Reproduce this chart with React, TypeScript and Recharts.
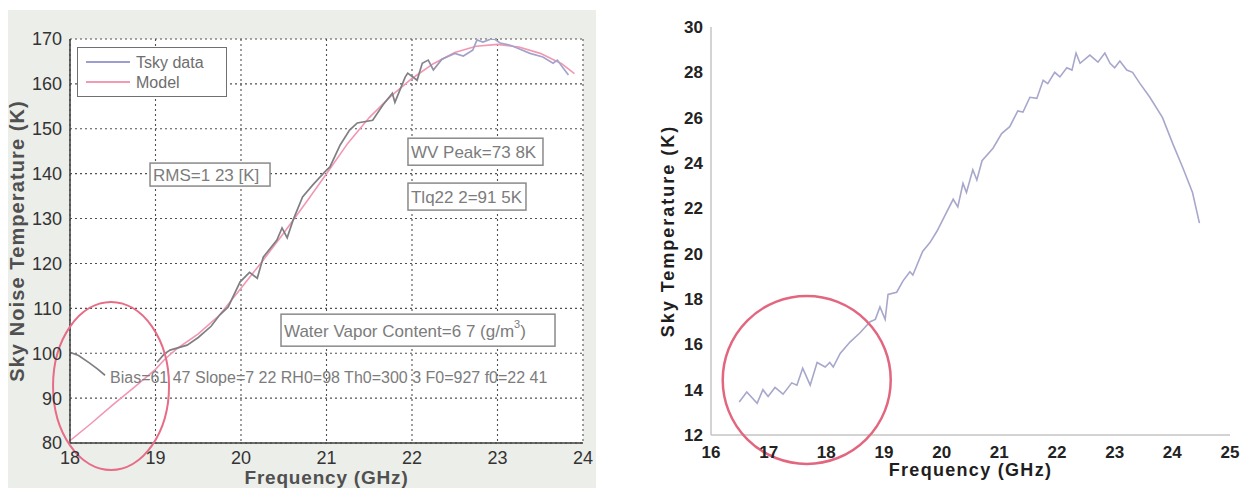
import React from 'react';
import { LineChart, Line, XAxis, YAxis, CartesianGrid, ReferenceDot, Legend } from 'recharts';

// ---------- Left panel: Tsky measurement and fitted model (20180707-seoz02-az180) ----------
const tskyFreq = [
  18.0, 18.1, 18.23, 18.32, 18.41, 18.7, 19.02, 19.1, 19.17, 19.37, 19.5, 19.65, 19.75, 19.85,
  19.99, 20.1, 20.19, 20.26, 20.42, 20.48, 20.54, 20.61, 20.72, 20.84, 20.98, 21.04, 21.16,
  21.27, 21.36, 21.54, 21.66, 21.77, 21.8, 21.92, 21.95, 22.06, 22.12, 22.19, 22.25, 22.35,
  22.5, 22.6, 22.71, 22.76, 22.83, 22.95, 23.03, 23.15, 23.23, 23.38, 23.53, 23.65, 23.7,
  23.77, 23.83,
];
const tskyTemp = [
  100.2, 99.5, 97.8, 96.5, 95.1, null, 98.0, 99.8, 100.7, 101.8, 103.5, 106.0, 108.5, 110.3,
  115.9, 118.0, 116.7, 121.4, 125.2, 127.9, 125.7, 129.7, 134.8, 137.5, 140.4, 141.5, 146.4,
  149.7, 151.3, 151.9, 155.3, 157.9, 155.9, 161.5, 162.4, 160.8, 164.6, 165.3, 163.1, 165.5,
  166.8, 166.2, 167.5, 169.8, 169.3, 170.2, 169.1, 168.6, 168.0, 166.8, 166.0, 164.6, 165.3,
  163.5, 162.0,
];
const modelFreq = [
  18.0, 18.25, 18.5, 18.75, 19.0, 19.1, 19.25, 19.5, 19.75, 20.0, 20.25, 20.5, 20.75, 21.0,
  21.25, 21.5, 21.75, 22.0, 22.25, 22.5, 22.75, 23.0, 23.25, 23.5, 23.75, 23.9,
];
const modelTemp = [
  80.5, 84.4, 88.5, 92.4, 96.4, 98.5, 101.0, 104.3, 108.5, 114.5, 120.5, 126.8, 133.3, 140.0,
  146.8, 152.5, 157.2, 161.2, 164.5, 167.0, 168.4, 168.8, 168.2, 166.8, 164.5, 162.3,
];
const leftXTicks = [18, 19, 20, 21, 22, 23, 24];
const leftYTicks = [80, 90, 100, 110, 120, 130, 140, 150, 160, 170];

const leftTitle = '20180707-seoz02-az180';
const rmsText = 'RMS=1 23 [K]';
const wvPeakText = 'WV Peak=73 8K';
const tlqText = 'Tlq22 2=91 5K';
const fitText = 'Bias=61 47 Slope=7 22 RH0=98 Th0=300 3 F0=927 f0=22 41';
const legendOrder = ['Tsky data', 'Model'];

// ---------- Right panel: sky temperature spectrum ----------
const skyFreq = [
  16.49, 16.62, 16.8, 16.9, 16.99, 17.11, 17.25, 17.4, 17.49, 17.59, 17.72, 17.84, 17.98,
  18.06, 18.12, 18.24, 18.41, 18.58, 18.76, 18.85, 18.93, 19.02, 19.07, 19.22, 19.33, 19.45,
  19.5, 19.67, 19.8, 19.92, 20.06, 20.2, 20.28, 20.37, 20.43, 20.54, 20.61, 20.7, 20.89, 21.04,
  21.18, 21.32, 21.41, 21.53, 21.65, 21.76, 21.84, 21.96, 22.05, 22.17, 22.26, 22.33, 22.4,
  22.57, 22.71, 22.83, 22.92, 23.0, 23.09, 23.21, 23.31, 23.44, 23.61, 23.83, 24.0, 24.18,
  24.35, 24.47,
];
const skyTemp = [
  13.46, 13.9, 13.4, 14.0, 13.7, 14.1, 13.8, 14.3, 14.2, 14.95, 14.2, 15.2, 15.0, 15.2, 15.0,
  15.6, 16.1, 16.5, 17.0, 17.1, 17.65, 17.1, 18.2, 18.3, 18.8, 19.2, 19.06, 20.1, 20.5, 21.0,
  21.7, 22.4, 22.06, 23.1, 22.7, 23.7, 23.25, 24.1, 24.65, 25.3, 25.6, 26.3, 26.25, 26.9,
  26.85, 27.65, 27.5, 28.0, 27.8, 28.2, 28.1, 28.85, 28.4, 28.76, 28.45, 28.85, 28.4, 28.2,
  28.5, 28.1, 28.0, 27.5, 26.9, 26.0, 24.9, 23.8, 22.7, 21.35,
];
const rightXTicks = [16, 17, 18, 19, 20, 21, 22, 23, 24, 25];
const rightYTicks = [12, 14, 16, 18, 20, 22, 24, 26, 28, 30];

const tskyData = tskyFreq.map((f, i) => ({ f, t: tskyTemp[i] }));
const modelData = modelFreq.map((f, i) => ({ f, t: modelTemp[i] }));
const skyData = skyFreq.map((f, i) => ({ f, t: skyTemp[i] }));

const LEFT_FONT = '"Liberation Sans", Arial, sans-serif';
const boxTextColor = '#7c7c7c';

// A framed text label whose top-left corner sits on the anchor point
const boxLabel = (w: number, h: number, content: React.ReactNode) => (p: any) => (
  <g>
    <rect x={p.cx} y={p.cy} width={w} height={h} fill="#ffffff" stroke="#8a8a8a" strokeWidth={1.5} />
    <text
      x={p.cx + 3}
      y={p.cy + h / 2 + 1}
      dominantBaseline="central"
      fontFamily={LEFT_FONT}
      fontSize={17}
      fill={boxTextColor}
    >
      {content}
    </text>
  </g>
);

const plainLabel = (content: string) => (p: any) => (
  <text x={p.cx} y={p.cy} dominantBaseline="central" fontFamily={LEFT_FONT} fontSize={16} fill={boxTextColor}>
    {content}
  </text>
);

const ellipseShape = (rx: number, ry: number, color: string, width: number) => (p: any) => (
  <ellipse cx={p.cx} cy={p.cy} rx={rx} ry={ry} fill="none" stroke={color} strokeWidth={width} />
);

const legendColors: Record<string, string> = { 'Tsky data': '#9d9dd2', Model: '#f19ab4' };

const LeftLegend = (props: any) => {
  const entries = [...(props.payload || [])].sort(
    (a: any, b: any) => legendOrder.indexOf(a.value) - legendOrder.indexOf(b.value)
  );
  return (
    <div style={{ width: 148, height: 48, border: '1.5px solid #707070', background: '#ffffff' }}>
      <svg width={148} height={48}>
        {entries.map((entry: any, i: number) => (
          <g key={entry.value}>
            <line x1={8} x2={52} y1={14 + i * 20} y2={14 + i * 20} stroke={legendColors[entry.value]} strokeWidth={2} />
            <text x={58} y={14 + i * 20} dominantBaseline="central" fontFamily={LEFT_FONT} fontSize={16} fill="#6e6e6e">
              {entry.value}
            </text>
          </g>
        ))}
      </svg>
    </div>
  );
};

function LeftPanel() {
  const tickStyle = { fontFamily: LEFT_FONT, fontSize: 18, fill: '#333333' };
  return (
    <div style={{ position: 'absolute', left: 0, top: 0, width: 600, height: 493 }}>
      <div style={{ position: 'absolute', left: 8, top: 10, width: 588, height: 478, background: '#eceeea' }} />
      <div style={{ position: 'absolute', left: 0, top: 0 }}>
        <LineChart width={600} height={493} margin={{ top: 39, right: 17, bottom: 20, left: 0 }}>
          <defs>
            <linearGradient id="tskyStroke" x1="0" y1="0" x2="1" y2="0">
              <stop offset="0" stopColor="#7e7e84" />
              <stop offset="0.7" stopColor="#7e7e84" />
              <stop offset="0.76" stopColor="#a0a0c8" />
              <stop offset="1" stopColor="#a4a4cc" />
            </linearGradient>
          </defs>
          <CartesianGrid
            xAxisId="b"
            yAxisId="l"
            fill="#ffffff"
            stroke="#505050"
            strokeWidth={1.1}
            strokeDasharray="2 3"
            verticalValues={leftXTicks}
            horizontalValues={leftYTicks}
          />
          <XAxis
            xAxisId="b"
            type="number"
            dataKey="f"
            domain={[18, 24]}
            ticks={leftXTicks}
            allowDataOverflow
            height={30}
            tick={tickStyle}
            tickLine={false}
            axisLine={{ stroke: '#3c3c3c', strokeWidth: 1.5 }}
            label={{
              value: 'Frequency (GHz)',
              position: 'bottom',
              offset: -2,
              style: { fontFamily: LEFT_FONT, fontSize: 19, fontWeight: 'bold', fill: '#505050', letterSpacing: 0.8 },
            }}
          />
          <XAxis
            xAxisId="t"
            orientation="top"
            type="number"
            dataKey="f"
            domain={[18, 24]}
            allowDataOverflow
            height={0}
            tick={false}
            tickLine={false}
            axisLine={{ stroke: '#3c3c3c', strokeWidth: 1.5 }}
            label={{
              value: leftTitle,
              position: 'top',
              offset: 14,
              style: { fontFamily: '"DejaVu Sans", sans-serif', fontSize: 16, fontWeight: 'bold', fill: '#262626' },
            }}
          />
          <YAxis
            yAxisId="l"
            type="number"
            dataKey="t"
            domain={[80, 170]}
            ticks={leftYTicks}
            allowDataOverflow
            width={70}
            tick={tickStyle}
            tickLine={false}
            axisLine={{ stroke: '#3c3c3c', strokeWidth: 1.5 }}
            label={{
              value: 'Sky Noise Temperature (K)',
              angle: -90,
              position: 'insideLeft',
              offset: 17,
              style: {
                textAnchor: 'middle',
                fontFamily: LEFT_FONT,
                fontSize: 20,
                fontWeight: 'bold',
                fill: '#505050',
                letterSpacing: 1.1,
              },
            }}
          />
          <YAxis
            yAxisId="r"
            orientation="right"
            type="number"
            domain={[80, 170]}
            allowDataOverflow
            width={0}
            tick={false}
            tickLine={false}
            axisLine={{ stroke: '#3c3c3c', strokeWidth: 1.5 }}
          />
          <Legend
            layout="horizontal"
            verticalAlign="middle"
            align="center"
            wrapperStyle={{ left: 77, top: 47, width: 150, height: 50 }}
            content={<LeftLegend />}
          />
          <Line
            xAxisId="b"
            yAxisId="l"
            data={modelData}
            dataKey="t"
            name="Model"
            type="linear"
            stroke="#f197b2"
            strokeWidth={1.6}
            dot={false}
            isAnimationActive={false}
          />
          <Line
            xAxisId="b"
            yAxisId="l"
            data={tskyData}
            dataKey="t"
            name="Tsky data"
            type="linear"
            stroke="url(#tskyStroke)"
            strokeWidth={1.7}
            dot={false}
            isAnimationActive={false}
          />
          <ReferenceDot xAxisId="b" yAxisId="l" x={18.936} y={142.36} ifOverflow="visible" shape={boxLabel(120, 23, rmsText)} />
          <ReferenceDot xAxisId="b" yAxisId="l" x={21.953} y={147.9} ifOverflow="visible" shape={boxLabel(135, 27, wvPeakText)} />
          <ReferenceDot xAxisId="b" yAxisId="l" x={21.953} y={137.9} ifOverflow="visible" shape={boxLabel(118, 27, tlqText)} />
          <ReferenceDot
            xAxisId="b"
            yAxisId="l"
            x={20.468}
            y={108.7}
            ifOverflow="visible"
            shape={boxLabel(
              274,
              32,
              <>
                Water Vapor Content=6 7 (g/m
                <tspan dy={-7} fontSize={11}>3</tspan>
                <tspan dy={7}>)</tspan>
              </>
            )}
          />
          <ReferenceDot xAxisId="b" yAxisId="l" x={18.468} y={94.7} ifOverflow="visible" shape={plainLabel(fitText)} />
          <ReferenceDot xAxisId="b" yAxisId="l" x={18.48} y={92.7} ifOverflow="visible" shape={ellipseShape(58, 84, '#e76c86', 2)} />
        </LineChart>
      </div>
    </div>
  );
}

function RightPanel() {
  const font = '"Liberation Sans", Arial, sans-serif';
  const tickStyle = { fontFamily: font, fontSize: 17, fontWeight: 'bold' as const, fill: '#222222' };
  const axisStroke = { stroke: '#c4c4c4', strokeWidth: 1.5 };
  return (
    <div style={{ position: 'absolute', left: 640, top: 0, width: 609, height: 493 }}>
      <LineChart width={609} height={493} margin={{ top: 27, right: 19, bottom: 28, left: 0 }}>
        <XAxis
          xAxisId="b"
          type="number"
          dataKey="f"
          domain={[16, 25]}
          ticks={rightXTicks}
          allowDataOverflow
          height={30}
          tick={tickStyle}
          tickLine={false}
          tickMargin={5}
          axisLine={axisStroke}
          label={{
            value: 'Frequency (GHz)',
            position: 'bottom',
            offset: -2,
            style: { fontFamily: font, fontSize: 18, fontWeight: 'bold', fill: '#1e1e1e', letterSpacing: 1.3 },
          }}
        />
        <XAxis xAxisId="t" orientation="top" type="number" domain={[16, 25]} allowDataOverflow height={0} tick={false} tickLine={false} axisLine={axisStroke} />
        <YAxis
          yAxisId="l"
          type="number"
          dataKey="t"
          domain={[12, 30]}
          ticks={rightYTicks}
          allowDataOverflow
          width={71}
          tick={tickStyle}
          tickLine={false}
          axisLine={axisStroke}
          label={{
            value: 'Sky Temperature (K)',
            angle: -90,
            position: 'insideLeft',
            offset: 28,
            style: { textAnchor: 'middle', fontFamily: font, fontSize: 18, fontWeight: 'bold', fill: '#1e1e1e', letterSpacing: 2 },
          }}
        />
        <YAxis yAxisId="r" orientation="right" type="number" domain={[12, 30]} allowDataOverflow width={0} tick={false} tickLine={false} axisLine={axisStroke} />
        <Line
          xAxisId="b"
          yAxisId="l"
          data={skyData}
          dataKey="t"
          name="Sky temperature"
          type="linear"
          stroke="#a7a7cc"
          strokeWidth={1.6}
          dot={false}
          isAnimationActive={false}
        />
        <ReferenceDot xAxisId="b" yAxisId="l" x={17.66} y={14.43} ifOverflow="visible" shape={ellipseShape(84, 84, '#e3667f', 2.5)} />
      </LineChart>
    </div>
  );
}

export default function App() {
  return (
    <div style={{ position: 'absolute', left: 0, top: 0, width: 1249, height: 493, background: '#ffffff', overflow: 'hidden' }}>
      <LeftPanel />
      <RightPanel />
    </div>
  );
}
